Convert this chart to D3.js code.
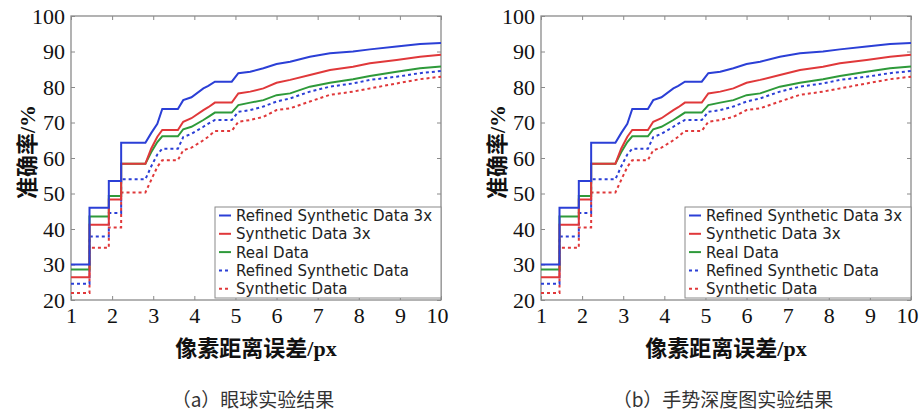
<!DOCTYPE html>
<html lang="zh">
<head>
  <meta charset="UTF-8">
  <title>Accuracy curves</title>
  <script src="https://d3js.org/d3.v7.min.js"></script>
  <style>
    body { margin: 0; background: #fff; }
    svg { display: block; }
    .serif { font-family: "Liberation Serif", "Times New Roman", "DejaVu Serif", serif; }
  </style>
</head>
<body>
  <script>
    // pixel error thresholds (repeated x = vertical jump)
    const xs = [1, 1.45, 1.45, 1.92, 1.92, 2.22, 2.22, 2.81, 2.95, 3.1, 3.22, 3.6, 3.73, 3.93, 4.22, 4.34, 4.5, 4.91, 5.07, 5.36, 5.68, 6.0, 6.33, 6.81, 7.3, 7.86, 8.27, 8.92, 9.49, 10]

    const refined3x = [30, 30, 46, 46, 53.5, 53.5, 64.3, 64.3, 67, 69.6, 73.8, 73.8, 76.3, 77.1, 79.6, 80.3, 81.5, 81.5, 83.9, 84.3, 85.3, 86.5, 87.1, 88.5, 89.5, 90, 90.6, 91.4, 92.1, 92.4]
    const synthetic3x = [26.4, 26.4, 41.2, 41.2, 48.3, 48.3, 58.4, 58.4, 62.6, 66, 67.9, 67.9, 70.2, 71.2, 73.5, 74.3, 75.6, 75.6, 78.2, 78.7, 79.6, 81.2, 82, 83.4, 84.8, 85.7, 86.7, 87.6, 88.5, 89.1]
    const realData = [28.6, 28.6, 43.5, 43.5, 49.3, 49.3, 58.4, 58.4, 61.6, 64.5, 66.1, 66.1, 68.1, 68.8, 70.7, 71.6, 72.8, 72.8, 74.9, 75.6, 76.3, 77.7, 78.2, 80.1, 81.2, 82.2, 83.1, 84.3, 85.3, 85.8]
    const refined = [24.6, 24.6, 37.9, 37.9, 44.5, 44.5, 54, 54, 57.6, 61, 62.6, 62.6, 65.9, 66.8, 68.8, 69.7, 70.7, 70.7, 73, 73.5, 74.5, 75.9, 76.8, 78.7, 80.1, 81, 82, 82.9, 83.9, 84.5]
    const synthetic = [22, 22, 34.7, 34.7, 40.4, 40.4, 50.3, 50.3, 53.8, 57.5, 59.4, 59.4, 62.2, 62.9, 65, 66, 67.6, 67.6, 70.2, 70.7, 71.6, 73.5, 74, 75.9, 77.8, 78.7, 79.6, 81, 82.2, 82.9]

    const seriesNames = ['Refined Synthetic Data 3x', 'Synthetic Data 3x', 'Real Data', 'Refined Synthetic Data', 'Synthetic Data']
    const seriesValues = [refined3x, synthetic3x, realData, refined, synthetic]
    const seriesColors = ['#2b3fd6', '#e0383a', '#2e9a3a', '#2b3fd6', '#e0383a']
    const seriesDashed = [false, false, false, true, true]

    const xTicks = [1, 2, 3, 4, 5, 6, 7, 8, 9, 10]
    const yTicks = [20, 30, 40, 50, 60, 70, 80, 90, 100]
    const panelCaptions = ['（a）眼球实验结果', '（b）手势深度图实验结果']

    const W = 920, H = 415
    const pw = 370, ph = 284
    const panelLeft = [71, 541]
    const plotTop = 16

    const svg = d3.select('body').append('svg')
      .attr('width', W)
      .attr('height', H)

    const x = d3.scaleLinear().domain([1, 10]).range([0, pw])
    const y = d3.scaleLinear().domain([20, 100]).range([ph, 0])

    const line = d3.line()
      .x(d => x(d[0]))
      .y(d => y(d[1]))

    panelLeft.forEach(function (left, p) {
      const g = svg.append('g').attr('transform', `translate(${left},${plotTop})`)

      // ticks pointing inward on all four sides
      const axes = [
        [d3.axisBottom(x).tickValues(xTicks).tickFormat(d3.format('d')).tickPadding(7), `translate(0,${ph})`, true],
        [d3.axisTop(x).tickValues(xTicks).tickFormat(''), 'translate(0,0)', false],
        [d3.axisLeft(y).tickValues(yTicks).tickFormat(d3.format('d')).tickPadding(6), 'translate(0,0)', true],
        [d3.axisRight(y).tickValues(yTicks).tickFormat(''), `translate(${pw},0)`, false]
      ]
      axes.forEach(function (a) {
        const ax = g.append('g')
          .attr('transform', a[1])
          .attr('font-family', null)
          .call(a[0].tickSizeInner(-4).tickSizeOuter(0))
        ax.attr('font-family', null).attr('font-size', null)
        ax.select('.domain').remove()
        ax.selectAll('line').attr('stroke', '#8a8a8a').attr('stroke-width', 1)
        ax.selectAll('text')
          .attr('class', 'serif')
          .attr('fill', '#111')
          .style('font-size', '22px')
        if (!a[2]) ax.selectAll('text').remove()
      })
      // the "10" label sits a little left of its tick, as in the original
      g.selectAll('.tick text').filter(d => d === 10 && xTicks.includes(d)).attr('dx', -4)

      g.append('rect')
        .attr('width', pw)
        .attr('height', ph)
        .attr('fill', 'none')
        .attr('stroke', '#8a8a8a')
        .attr('stroke-width', 1.3)

      // curves, drawn back to front
      for (let i = seriesValues.length - 1; i >= 0; i--) {
        const pts = xs.map((v, k) => [v, seriesValues[i][k]])
        g.append('path')
          .datum(pts)
          .attr('d', line)
          .attr('fill', 'none')
          .attr('stroke', seriesColors[i])
          .attr('stroke-width', 2)
          .attr('stroke-dasharray', seriesDashed[i] ? '3,3' : null)
      }

      // legend
      const lg = g.append('g').attr('transform', `translate(${pw - 226},${191})`)
      lg.append('rect')
        .attr('width', 226)
        .attr('height', 91)
        .attr('fill', '#fff')
        .attr('stroke', '#8a8a8a')
        .attr('stroke-width', 1)
      seriesNames.forEach(function (name, i) {
        const ly = 8.5 + i * 18.3
        lg.append('line')
          .attr('x1', 4).attr('x2', 16)
          .attr('y1', ly).attr('y2', ly)
          .attr('stroke', seriesColors[i])
          .attr('stroke-width', 2)
          .attr('stroke-dasharray', seriesDashed[i] ? '3,3' : null)
        lg.append('text')
          .attr('x', 21)
          .attr('y', ly)
          .attr('dy', '0.36em')
          .attr('fill', '#222')
          .style('font-family', '"DejaVu Sans", sans-serif')
          .style('font-size', '15px')
          .text(name)
      })

      // axis titles
      g.append('text')
        .attr('x', pw / 2)
        .attr('y', ph + 56)
        .attr('text-anchor', 'middle')
        .attr('fill', '#111')
        .style('font-family', '"Liberation Serif", "Times New Roman", "Noto Sans CJK SC", serif')
        .style('font-weight', 'bold')
        .style('font-size', '22px')
        .text('像素距离误差/px')

      g.append('text')
        .attr('transform', `translate(${-44},${ph / 2 - 6}) rotate(-90)`)
        .attr('text-anchor', 'middle')
        .attr('dy', '0.35em')
        .attr('fill', '#111')
        .style('font-family', '"Liberation Serif", "Times New Roman", "Noto Sans CJK SC", serif')
        .style('font-weight', 'bold')
        .style('font-size', '22px')
        .text('准确率/%')

      g.append('text')
        .attr('x', pw / 2 - 3)
        .attr('y', ph + 107)
        .attr('text-anchor', 'middle')
        .attr('fill', '#333')
        .style('font-family', '"Noto Sans CJK SC", sans-serif')
        .style('font-size', '19px')
        .text(panelCaptions[p])
    })
  </script>
</body>
</html>
